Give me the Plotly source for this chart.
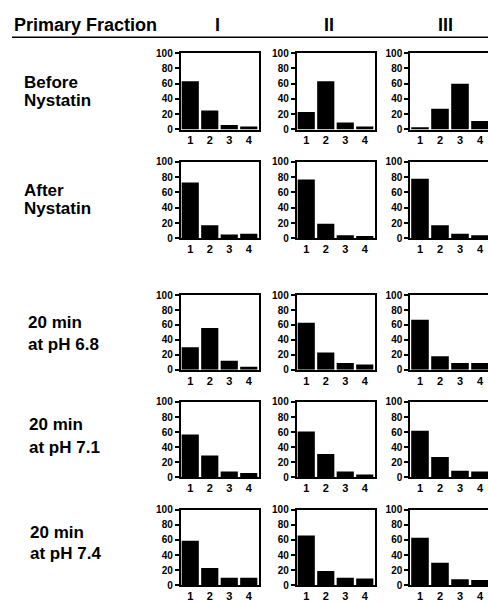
import plotly.graph_objects as go

# ---- data ----
fractions = ["I", "II", "III"]
categories = [1, 2, 3, 4]
y_ticks = [0, 20, 40, 60, 80, 100]
row_labels = [["Before", "Nystatin"], ["After", "Nystatin"], ["20 min", "at pH 6.8"],
              ["20 min", "at pH 7.1"], ["20 min", "at pH 7.4"]]

before_I = [63, 25, 6, 4]
before_II = [23, 63, 9, 4]
before_III = [3, 27, 60, 11]
after_I = [73, 17, 5, 6]
after_II = [77, 19, 4, 3]
after_III = [78, 17, 6, 4]
ph68_I = [30, 56, 12, 4]
ph68_II = [63, 23, 9, 7]
ph68_III = [67, 18, 9, 9]
ph71_I = [57, 29, 8, 6]
ph71_II = [61, 31, 8, 4]
ph71_III = [62, 27, 9, 8]
ph74_I = [59, 23, 10, 10]
ph74_II = [66, 19, 10, 9]
ph74_III = [63, 30, 8, 7]

rows_data = [
    [before_I, before_II, before_III],
    [after_I, after_II, after_III],
    [ph68_I, ph68_II, ph68_III],
    [ph71_I, ph71_II, ph71_III],
    [ph74_I, ph74_II, ph74_III],
]

W, H = 492, 605   # slightly wider than the 488 viewport so column III's right border is clipped
FONT = "Liberation Sans, Arial, Helvetica, sans-serif"

col_px = [(180.5, 258.5), (296.5, 374.5), (410.0, 490.0)]
row_px = [(48, 126), (159, 237), (295, 371), (404, 481), (514, 591)]
row_label_caps = [(77, 95.5), (187.5, 205.5), (322, 344), (426, 449), (536, 557.5)]
row_label_x = [21.5, 21.5, 26, 27, 28]
header_x = [217, 329, 445]

fig = go.Figure()
layout = {}
k = 0
for r, row in enumerate(rows_data):
    for c, vals in enumerate(row):
        k += 1
        xa = "x" if k == 1 else f"x{k}"
        ya = "y" if k == 1 else f"y{k}"
        fig.add_trace(go.Bar(x=categories, y=vals, xaxis=xa, yaxis=ya,
                             marker=dict(color="black", line=dict(width=0)),
                             showlegend=False, hoverinfo="skip"))
        x0, x1 = col_px[c]
        t, b = row_px[r]
        xname = "xaxis" if k == 1 else f"xaxis{k}"
        yname = "yaxis" if k == 1 else f"yaxis{k}"
        layout[xname] = dict(domain=[x0 / W, min(x1 / W, 1.0)], anchor=ya,
                             range=[0.5, 4.5], tickvals=categories, ticks="",
                             showline=True, mirror=True, linecolor="black", linewidth=1.5,
                             showgrid=False, zeroline=False, fixedrange=True,
                             tickfont=dict(family=FONT, size=11, color="black", weight="bold"))
        layout[yname] = dict(domain=[1 - b / H, 1 - t / H], anchor=xa,
                             range=[0, 100], tickvals=y_ticks, ticks="outside",
                             ticklen=4, tickwidth=1.5, tickcolor="black",
                             showline=True, mirror=True, linecolor="black", linewidth=1.5,
                             showgrid=False, zeroline=False, fixedrange=True,
                             tickfont=dict(family=FONT, size=10, color="black", weight="bold"))

annotations = []
annotations.append(dict(text="Primary Fraction", x=12 / W, y=1 - 19.5 / H, xref="paper", yref="paper",
                        xanchor="left", yanchor="middle", showarrow=False,
                        font=dict(family=FONT, size=18, color="black", weight="bold")))
for name, hx in zip(fractions, header_x):
    annotations.append(dict(text=name, x=hx / W, y=1 - 19.5 / H, xref="paper", yref="paper",
                            xanchor="center", yanchor="middle", showarrow=False,
                            font=dict(family=FONT, size=18, color="black", weight="bold")))
for lab, caps, lx in zip(row_labels, row_label_caps, row_label_x):
    for line, cy in zip(lab, caps):
        annotations.append(dict(text=line, x=lx / W, y=1 - (cy + 1) / H, xref="paper", yref="paper",
                                xanchor="left", yanchor="middle", showarrow=False,
                                font=dict(family=FONT, size=17, color="black", weight="bold")))

fig.update_layout(
    width=W, height=H, margin=dict(l=0, r=0, t=0, b=0),
    paper_bgcolor="white", plot_bgcolor="white",
    bargap=0.12, showlegend=False,
    annotations=annotations,
    shapes=[dict(type="line", xref="paper", yref="paper", x0=12 / W, x1=1.0,
                 y0=1 - 32 / H, y1=1 - 32 / H, line=dict(color="black", width=1.5))],
    **layout,
)

fig.write_html("out.html", config={"displayModeBar": False},
               post_script="document.body.style.margin='0';document.body.style.overflow='hidden';")
